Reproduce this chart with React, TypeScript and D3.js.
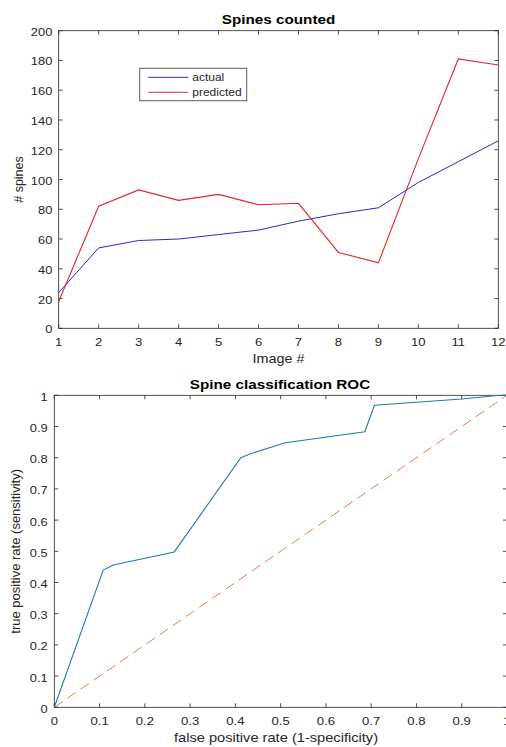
import React from 'react';
import * as d3 from 'd3';

const images = [1, 2, 3, 4, 5, 6, 7, 8, 9, 10, 11, 12];
const actual = [24, 54, 59, 60, 63, 66, 72, 77, 81, 98, 112, 126];
const predicted = [18, 82, 93, 86, 90, 83, 84, 51, 44, 114, 181, 177];
const countTicks = [0, 20, 40, 60, 80, 100, 120, 140, 160, 180, 200];

const rocFpr = [0, 0.108, 0.13, 0.265, 0.412, 0.432, 0.51, 0.686, 0.707, 0.9, 0.984, 1];
const rocTpr = [0, 0.44, 0.456, 0.498, 0.8, 0.812, 0.848, 0.883, 0.968, 0.988, 1, 1];
const rateTicks = [0, 0.1, 0.2, 0.3, 0.4, 0.5, 0.6, 0.7, 0.8, 0.9, 1];

const font = '"Liberation Sans", Arial, sans-serif';
const textColor = '#262626';
const axisColor = '#262626';

// the reference text is a bit wider than it is tall, so stretch it horizontally
const T = ({ x, y, size, anchor = 'start', bold = false, sx = 1.25, color = textColor, children }: any) => (
  <text
    transform={`translate(${x},${y}) scale(${sx},1)`}
    textAnchor={anchor}
    fontSize={size}
    fontWeight={bold ? 'bold' : 'normal'}
    fill={color}
  >
    {children}
  </text>
);

const App = () => {
  // top panel
  const x1 = d3.scaleLinear().domain([1, 12]).range([58.7, 498.3]);
  const y1 = d3.scaleLinear().domain([0, 200]).range([328.3, 30.7]);
  const line1 = d3
    .line<number>()
    .x((_, i) => x1(images[i]))
    .y((d) => y1(d));

  // bottom panel
  const x2 = d3.scaleLinear().domain([0, 1]).range([54.3, 507]);
  const y2 = d3.scaleLinear().domain([0, 1]).range([707.3, 395.3]);
  const rocLine = d3
    .line<number>()
    .x((d) => x2(d))
    .y((_, i) => y2(rocTpr[i]));

  const tick = 4;
  const fmt = (v: number) => (v === 0 || v === 1 ? String(v) : d3.format('.1f')(v));

  return (
    <svg
      width={506}
      height={747}
      style={{ position: 'absolute', left: 0, top: 0, background: '#fff' }}
      fontFamily={font}
    >
      <rect width={506} height={747} fill="#fff" />

      {/* ---------- Spines counted ---------- */}
      <T x={278.5} y={24} size={12.5} anchor="middle" bold sx={1.22} color="#000">
        Spines counted
      </T>
      <g stroke={axisColor} strokeWidth={0.8}>
        {images.map((v) => (
          <g key={'xt' + v}>
            <line x1={x1(v)} x2={x1(v)} y1={y1(0)} y2={y1(0) - tick} />
            <line x1={x1(v)} x2={x1(v)} y1={y1(200)} y2={y1(200) + tick} />
          </g>
        ))}
        {countTicks.map((v) => (
          <g key={'yt' + v}>
            <line x1={x1(1)} x2={x1(1) + tick} y1={y1(v)} y2={y1(v)} />
            <line x1={x1(12)} x2={x1(12) - tick} y1={y1(v)} y2={y1(v)} />
          </g>
        ))}
        <rect x={x1(1)} y={y1(200)} width={x1(12) - x1(1)} height={y1(0) - y1(200)} fill="none" />
      </g>
      <path d={line1(actual) || ''} fill="none" stroke="#2828c8" strokeWidth={1} />
      <path d={line1(predicted) || ''} fill="none" stroke="#e02828" strokeWidth={1.1} />
      {images.map((v) => (
        <T key={'xl' + v} x={x1(v)} y={345.5} size={10.5} anchor="middle">
          {v}
        </T>
      ))}
      {countTicks.map((v) => (
        <T key={'yl' + v} x={52.3} y={y1(v) + 5} size={10.3} anchor="end">
          {v}
        </T>
      ))}
      <T x={278.5} y={363} size={12} anchor="middle" sx={1.2}>
        Image #
      </T>
      <text
        transform={`translate(23,${(y1(0) + y1(200)) / 2}) rotate(-90)`}
        textAnchor="middle"
        fontSize={12.5}
        fill={textColor}
      >
        # spines
      </text>

      {/* legend */}
      <rect x={139.7} y={68.3} width={107} height={32.4} fill="#fff" stroke="#5a5a5a" strokeWidth={1} />
      <line x1={148.3} x2={188.3} y1={77.3} y2={77.3} stroke="#2828c8" strokeWidth={1} />
      <line x1={148.3} x2={188.3} y1={92.3} y2={92.3} stroke="#e02828" strokeWidth={1} />
      <T x={192.3} y={81} size={10} sx={1.2}>
        actual
      </T>
      <T x={192.3} y={96} size={10} sx={1.2}>
        predicted
      </T>

      {/* ---------- Spine classification ROC ---------- */}
      <T x={280} y={389} size={12.5} anchor="middle" bold sx={1.22} color="#000">
        Spine classification ROC
      </T>
      <g stroke={axisColor} strokeWidth={0.8}>
        {rateTicks.map((v) => (
          <g key={'bxt' + v}>
            <line x1={x2(v)} x2={x2(v)} y1={y2(0)} y2={y2(0) - tick} />
            <line x1={x2(v)} x2={x2(v)} y1={y2(1)} y2={y2(1) + tick} />
            <line x1={x2(0)} x2={x2(0) + tick} y1={y2(v)} y2={y2(v)} />
            <line x1={x2(1)} x2={x2(1) - tick} y1={y2(v)} y2={y2(v)} />
          </g>
        ))}
        <rect x={x2(0)} y={y2(1)} width={x2(1) - x2(0)} height={y2(0) - y2(1)} fill="none" />
      </g>
      <line
        x1={x2(0)}
        y1={y2(0)}
        x2={x2(1)}
        y2={y2(1)}
        stroke="#d95319"
        strokeOpacity={0.75}
        strokeWidth={1}
        strokeDasharray="10,6"
      />
      <path d={rocLine(rocFpr) || ''} fill="none" stroke="#2379b0" strokeWidth={1.1} />
      {rateTicks.map((v) => (
        <T key={'bxl' + v} x={x2(v)} y={725} size={10.5} anchor="middle">
          {fmt(v)}
        </T>
      ))}
      {rateTicks.map((v) => (
        <T key={'byl' + v} x={47.7} y={y2(v) + 5.5} size={10.3} anchor="end">
          {fmt(v)}
        </T>
      ))}
      <T x={276} y={742} size={12.2} anchor="middle" sx={1.2}>
        false positive rate (1-specificity)
      </T>
      <text
        transform={`translate(20,${(y2(0) + y2(1)) / 2}) rotate(-90)`}
        textAnchor="middle"
        fontSize={13}
        fill={textColor}
      >
        true positive rate (sensitivity)
      </text>
    </svg>
  );
};

export default App;
